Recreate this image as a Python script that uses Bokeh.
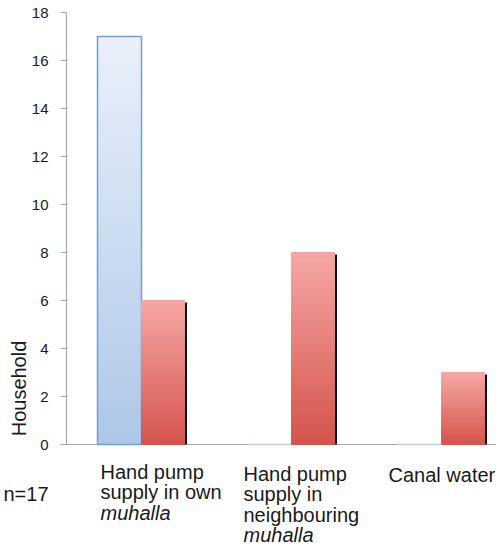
import numpy as np
from bokeh.plotting import figure
from bokeh.models import Range1d
from bokeh.core.properties import value
from bokeh.embed import file_html
from bokeh.resources import INLINE

# ---- data ----
categories = ["Hand pump supply in own muhalla",
              "Hand pump supply in neighbouring muhalla",
              "Canal water"]
label_lines = [["Hand pump", "supply in own", "muhalla"],
               ["Hand pump", "supply in", "neighbouring", "muhalla"],
               ["Canal water"]]
italic_words = ["muhalla"]
blue_values = [17, 0, 0]
red_values = [6, 8, 3]
y_ticks = [0, 2, 4, 6, 8, 10, 12, 14, 16, 18]
y_title = "Household"
note = "n=17"

# ---- layout helpers ----
W, H = 496, 547
LEFT_PX, ZERO_PX = 66, 444     # y-axis position, zero line position (px)
PX_X = 150.0   # pixels per category
PX_Y = 24.0    # pixels per unit
FONT = "Liberation Sans"
TXT = "#1a1a1a"
AX = "#a8a8a8"


def dx(px):
    return px / PX_X


def dy(px):
    return px / PX_Y


centers = [i + 0.5 for i in range(len(categories))]
blue_w = dx(44)
red_w = dx(43)


def hex2rgb(h):
    h = h.lstrip("#")
    return np.array([int(h[i:i + 2], 16) for i in (0, 2, 4)], dtype=float)


def grad(top, bottom, f):
    a, b = hex2rgb(top), hex2rgb(bottom)
    c = b + (a - b) * f
    return "#%02x%02x%02x" % tuple(int(round(v)) for v in c)


p = figure(width=W, height=H, output_backend="svg", toolbar_location=None,
           x_range=Range1d(-dx(LEFT_PX), dx(W - LEFT_PX)),
           y_range=Range1d(-dy(H - ZERO_PX), dy(ZERO_PX)),
           min_border=0)
p.outline_line_color = None
p.grid.visible = False
p.axis.visible = False
p.background_fill_color = "white"
p.border_fill_color = "white"

N = 60


def gradient_bar(x_left, width, v, top_c, bot_c):
    if v <= 0:
        return
    ks = np.arange(N)
    bots = v * ks / N
    tops = v * (ks + 1) / N
    cols = [grad(top_c, bot_c, (k + 0.5) / N) for k in ks]
    p.quad(left=[x_left] * N, right=[x_left + width] * N, bottom=bots, top=tops,
           fill_color=cols, line_color=cols, line_width=1)


# axes lines and ticks
ymax = max(y_ticks)
p.segment(x0=[-dx(6)], y0=[0], x1=[dx(W - LEFT_PX)], y1=[0], line_color=AX, line_width=1.2)
p.segment(x0=[0], y0=[0], x1=[0], y1=[ymax], line_color=AX, line_width=1.2)
p.segment(x0=[-dx(6)] * len(y_ticks), y0=y_ticks, x1=[0] * len(y_ticks), y1=y_ticks,
          line_color=AX, line_width=1.2)
p.text(x=[-dx(18)] * len(y_ticks), y=y_ticks, text=[str(t) for t in y_ticks],
       text_font=value(FONT), text_font_size="15px", text_color=TXT,
       text_align="right", text_baseline="middle")

for c, bv, rv in zip(centers, blue_values, red_values):
    # blue bar
    gradient_bar(c - blue_w, blue_w, bv, "#e9f0fa", "#aec7e8")
    p.quad(left=[c - blue_w], right=[c], bottom=[0], top=[bv], fill_color=None,
           line_color="#6f9fdb" if bv > 0 else "#b7cfec", line_width=1.5)
    # red bar shadow
    if rv > 0:
        p.quad(left=[c + red_w], right=[c + red_w + dx(2.5)], bottom=[0],
               top=[rv - dy(2)], fill_color="#111111", line_color=None)
    gradient_bar(c, red_w, rv, "#f5a7a5", "#d4544b")

# category labels
line_gap = dy(20.5)
first_base_px = [27, 29, 30]
label_left_px = [34, 177, 322]
for c, lines, lpx, bpx in zip(centers, label_lines, label_left_px, first_base_px):
    for j, t in enumerate(lines):
        p.text(x=[dx(lpx)], y=[-dy(bpx) - j * line_gap], text=[t],
               text_font=value(FONT), text_font_size="20px", text_color=TXT,
               text_align="left", text_baseline="alphabetic",
               text_font_style="italic" if t in italic_words else "normal")

# y title
p.text(x=[-dx(48)], y=[dy(56)], text=[y_title], angle=np.pi / 2,
       text_font=value(FONT), text_font_size="20px", text_color=TXT,
       text_align="center", text_baseline="middle")

# note
p.text(x=[-dx(63)], y=[-dy(49)], text=[note],
       text_font=value(FONT), text_font_size="20px", text_color=TXT,
       text_align="left", text_baseline="alphabetic")

open("out.html", "w").write(file_html(p, INLINE))
